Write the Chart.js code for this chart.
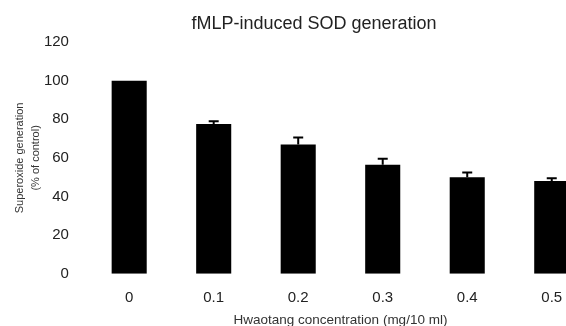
<!DOCTYPE html>
<html>
<head>
<meta charset="utf-8">
<script src="https://cdn.jsdelivr.net/npm/chart.js@4"></script>
<style>
    html, body { margin: 0; padding: 0; background: #fff; overflow: hidden; }
    #wrap { width: 600px; height: 326px; }
</style>
</head>
<body>
<div id="wrap"><canvas id="sodChart" width="600" height="326"></canvas></div>
<script>
// Dữ liệu
const concentrations = ['0', '0.1', '0.2', '0.3', '0.4', '0.5'];
const sodValues = [100, 77.5, 67, 56.5, 50, 48];
const sodErrors = [0, 1.5, 3.5, 3, 2.5, 1.5];
const yTicks = [0, 20, 40, 60, 80, 100, 120];

/**
 * Vẽ thanh sai số (chỉ phía trên) theo thang đo của chart
 */
const errorBarPlugin = {
    id: 'errorBars',
    afterDatasetsDraw(chart) {
        const ctx = chart.ctx;
        const yScale = chart.scales.y;
        const meta = chart.getDatasetMeta(0);
        ctx.save();
        ctx.strokeStyle = '#000';
        ctx.lineWidth = 2;
        meta.data.forEach((bar, i) => {
            const err = sodErrors[i];
            if (!err) return;
            const top = yScale.getPixelForValue(sodValues[i] + err);
            ctx.beginPath();
            ctx.moveTo(bar.x, bar.y);
            ctx.lineTo(bar.x, top);
            ctx.moveTo(bar.x - 5, top);
            ctx.lineTo(bar.x + 5, top);
            ctx.stroke();
        });
        ctx.restore();
    }
};

/**
 * Tiêu đề đặt lệch trái một chút như bản gốc
 */
const titlePlugin = {
    id: 'offsetTitle',
    afterDraw(chart) {
        const ctx = chart.ctx;
        ctx.save();
        ctx.font = '18px "Liberation Sans", Arial, sans-serif';
        ctx.fillStyle = '#222';
        ctx.textAlign = 'center';
        ctx.textBaseline = 'middle';
        ctx.fillText('fMLP-induced SOD generation', 314, 24);
        ctx.restore();
    }
};

const ctx = document.getElementById('sodChart').getContext('2d');
new Chart(ctx, {
    type: 'bar',
    data: {
        labels: concentrations,
        datasets: [{
            data: sodValues,
            backgroundColor: '#000',
            borderWidth: 0,
            categoryPercentage: 1,
            barPercentage: 0.415
        }]
    },
    options: {
        responsive: false,
        animation: false,
        layout: {
            padding: { top: 42, left: 0, right: 6, bottom: 0 }
        },
        scales: {
            x: {
                grid: { display: false, drawTicks: false },
                border: { display: false },
                ticks: {
                    color: '#222',
                    padding: 15,
                    font: { family: '"Liberation Sans", Arial, sans-serif', size: 15 }
                },
                title: {
                    display: true,
                    text: 'Hwaotang concentration (mg/10 ml)',
                    color: '#333',
                    padding: { top: -10, bottom: -2 },
                    font: { family: '"Liberation Sans", Arial, sans-serif', size: 13.5 }
                }
            },
            y: {
                min: 0,
                max: 120,
                afterBuildTicks(axis) {
                    axis.ticks = yTicks.map(v => ({ value: v }));
                },
                grid: { display: false, drawTicks: false },
                border: { display: false },
                ticks: {
                    color: '#222',
                    padding: 18,
                    font: { family: '"Liberation Sans", Arial, sans-serif', size: 15 }
                },
                title: {
                    display: true,
                    text: ['Superoxide generation', '(% of control)'],
                    color: '#333',
                    padding: { top: 12, bottom: -18 },
                    font: { family: '"Liberation Sans", Arial, sans-serif', size: 11, lineHeight: 1.45 }
                }
            }
        },
        plugins: {
            legend: { display: false },
            tooltip: { enabled: false }
        }
    },
    plugins: [errorBarPlugin, titlePlugin]
});
</script>
</body>
</html>
